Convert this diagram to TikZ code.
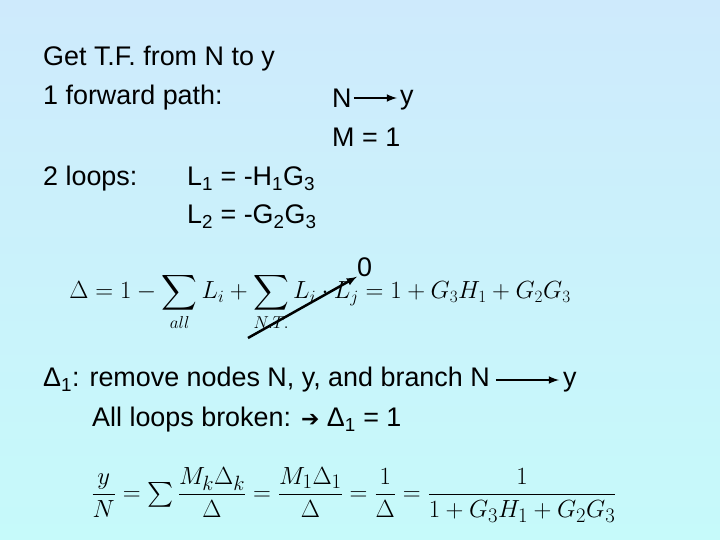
\documentclass[tikz,border=0pt]{standalone}
\usepackage{fontspec}
\setmainfont{Liberation Sans}
\newfontfamily\symfont{DejaVu Sans}
\usepackage{amsmath}
\begin{document}
\begin{tikzpicture}[x=1bp,y=-1bp]
\tikzstyle{txt}=[anchor=west, inner sep=0pt, font=\fontsize{27}{31}\selectfont]
\tikzstyle{eqn}=[inner sep=0pt, font=\fontsize{25}{29}\selectfont]
\tikzstyle{flow}=[draw, -latex, line width=2.5pt]

% background
\shade[top color={rgb,255:red,206;green,234;blue,252}, bottom color={rgb,255:red,198;green,250;blue,250}]
  (0,0) rectangle (720,540);
\useasboundingbox (0,0) rectangle (720,540);

% text lines
\node[txt] (title) at (43,59) {Get T.F. from N to y};
\node[txt] (fwd) at (43,98) {1 forward path:};
\node[txt] (pn) at (332,98) {N};
\node[txt] (py) at (400,100) {y};
\node[txt] (pm) at (332,137) {M = 1};
\node[txt] (loops) at (43,179) {2 loops:};
\node[txt] (l1) at (187,179) {L\textsubscript{1} = -H\textsubscript{1}G\textsubscript{3}};
\node[txt] (l2) at (187,217) {L\textsubscript{2} = -G\textsubscript{2}G\textsubscript{3}};
\node[txt] (zero) at (357,267) {0};

% Delta equation
\node[eqn] (delta) at (320,302)
  {$\displaystyle\Delta=1-\sum_{all}L_i+\sum_{N.T.}L_i\cdot L_j=1+G_3H_1+G_2G_3$};
\coordinate (cancel) at (248,338);
\draw[flow] (cancel) -- (zero.south west);

\node[txt] (d1) at (43,380) {Δ\textsubscript{1}: remove nodes N, y, and branch N};
\node[txt] (by) at (563,382) {y};
\node[txt] (broken) at (92,420) {All loops broken: {\symfont\bfseries\fontsize{22}{24}\selectfont ➔} Δ\textsubscript{1} = 1};

% arrows between N and y
\draw[flow] ([xshift=2pt]pn.east) -- ([xshift=-3pt]py.west |- pn.east);
\draw[flow] ([xshift=6pt]d1.east) -- ([xshift=-4pt]by.west |- d1.east);

% transfer function
\node[eqn, font=\fontsize{29}{33}\selectfont] (tf) at (354,495)
  {$\dfrac{y}{N}=\sum\dfrac{M_k\Delta_k}{\Delta}=\dfrac{M_1\Delta_1}{\Delta}=\dfrac{1}{\Delta}=\dfrac{1}{1+G_3H_1+G_2G_3}$};
\end{tikzpicture}
\end{document}
